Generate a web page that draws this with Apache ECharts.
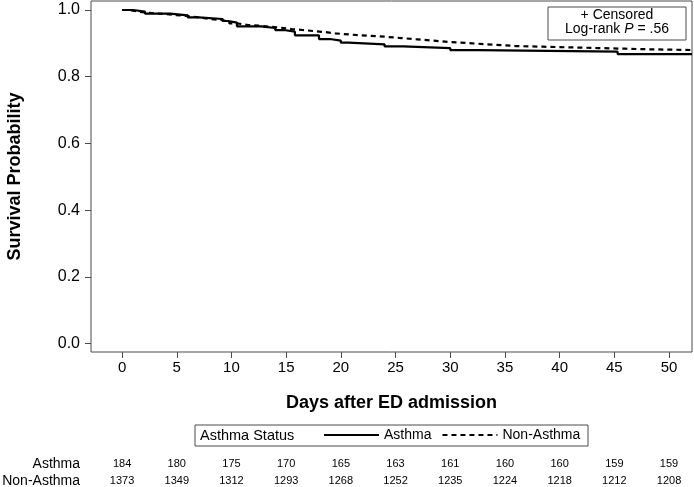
<!DOCTYPE html>
<html>
<head>
<meta charset="utf-8">
<script src="https://cdn.jsdelivr.net/npm/echarts@6/dist/echarts.min.js"></script>
<style>html,body{margin:0;padding:0;background:#fff}#c{width:694px;height:487px}</style>
</head>
<body>
<div id="c"></div>
<script>
// ---- data ----
var asthmaTimes = [0, 1.0, 2.1, 4.4, 6.0, 7.0, 9.2, 9.7, 10.5, 12.7, 14.0, 14.8, 15.8, 18.0, 19.0, 20.0, 20.7, 24.0, 25.7, 30.0, 32.6, 45.3, 52.1];
var asthmaSurv  = [1.000, 0.995, 0.989, 0.984, 0.978, 0.973, 0.967, 0.962, 0.951, 0.946, 0.940, 0.935, 0.924, 0.913, 0.908, 0.902, 0.897, 0.891, 0.886, 0.880, 0.875, 0.868, 0.868];
var nonAsthmaTimes = [0, 0.5, 1.0, 1.5, 2.1, 3.0, 4.0, 4.8, 6.0, 7.0, 8.0, 9.0, 9.8, 10.5, 11.5, 12.5, 13.5, 14.5, 15.5, 16.5, 17.5, 18.5, 19.5, 21.0, 22.5, 24.0, 25.5, 27.0, 28.5, 30.0, 32.0, 34.0, 36.0, 38.5, 41.0, 43.5, 46.0, 48.5, 50.5, 52.1];
var nonAsthmaSurv  = [1.000, 0.998, 0.995, 0.993, 0.990, 0.988, 0.985, 0.982, 0.978, 0.973, 0.970, 0.966, 0.960, 0.955, 0.953, 0.950, 0.947, 0.943, 0.940, 0.937, 0.934, 0.930, 0.926, 0.923, 0.920, 0.916, 0.912, 0.908, 0.904, 0.900, 0.896, 0.892, 0.890, 0.888, 0.886, 0.884, 0.882, 0.881, 0.880, 0.880];
var xTicks = [0, 5, 10, 15, 20, 25, 30, 35, 40, 45, 50];
var yTicks = [0, 0.2, 0.4, 0.6, 0.8, 1.0];
var atRiskAsthma    = [184, 180, 175, 170, 165, 163, 161, 160, 160, 159, 159];
var atRiskNonAsthma = [1373, 1349, 1312, 1293, 1268, 1252, 1235, 1224, 1218, 1212, 1208];
var seriesNames = ['Asthma', 'Non-Asthma'];

function pairs(t, s) { return t.map(function (v, i) { return [v, s[i]]; }); }
function lookup(arr) { return function (v) { var i = xTicks.indexOf(Math.round(v)); return i >= 0 ? String(arr[i]) : ''; }; }

var FONT = 'Liberation Sans, Arial, sans-serif';
var chart = echarts.init(document.getElementById('c'), null, { renderer: 'canvas' });
var xMin = -2.84, xMax = 52.1;
function riskAxis(arr, offset) {
  return {
    type: 'value', min: xMin, max: xMax, position: 'bottom', offset: offset,
    axisLine: { show: false, onZero: false }, axisTick: { show: false }, splitLine: { show: false },
    axisLabel: { customValues: xTicks, margin: 0, fontSize: 11, color: '#000', fontFamily: FONT, formatter: lookup(arr) }
  };
}
chart.setOption({
  animation: false,
  backgroundColor: '#fff',
  grid: { left: 91, top: 1, right: 2, bottom: 135, show: true, borderColor: '#4a4a4a', borderWidth: 1, backgroundColor: 'transparent', outerBoundsMode: 'none', containLabel: false },
  xAxis: [
    {
      type: 'value', min: xMin, max: xMax, position: 'bottom',
      name: 'Days after ED admission', nameLocation: 'middle', nameGap: 42,
      nameTextStyle: { fontSize: 18, fontWeight: 'bold', color: '#000', fontFamily: FONT },
      axisLine: { show: false, onZero: false },
      axisTick: { show: true, customValues: xTicks, length: 6, lineStyle: { color: '#4a4a4a' } },
      axisLabel: { customValues: xTicks, margin: 8, fontSize: 15, color: '#000', fontFamily: FONT },
      splitLine: { show: false }
    },
    riskAxis(atRiskAsthma, 106),
    riskAxis(atRiskNonAsthma, 123)
  ],
  yAxis: {
    type: 'value', min: -0.025, max: 1.027, position: 'left',
    name: 'Survival Probability', nameLocation: 'middle', nameGap: 67, nameRotate: 90,
    nameTextStyle: { fontSize: 18, fontWeight: 'bold', color: '#000', fontFamily: FONT },
    axisLine: { show: false, onZero: false },
    axisTick: { show: true, customValues: yTicks, length: 6, lineStyle: { color: '#4a4a4a' } },
    axisLabel: { customValues: yTicks, margin: 11, fontSize: 16, color: '#000', fontFamily: FONT, formatter: function (v) { return v.toFixed(1); } },
    splitLine: { show: false }
  },
  legend: {
    left: 323, top: 428, padding: 0, itemGap: 10, itemWidth: 55, itemHeight: 16,
    selectedMode: false,
    itemStyle: { opacity: 0, borderWidth: 0 },
    lineStyle: { opacity: 1 },
    textStyle: { fontSize: 14, color: '#000', fontFamily: FONT },
    data: seriesNames
  },
  graphic: [
    { type: 'rect', shape: { x: 195, y: 425, width: 393, height: 21 }, style: { fill: 'none', stroke: '#4a4a4a', lineWidth: 1 }, z: 10 },
    { type: 'text', x: 200, y: 436, style: { text: 'Asthma Status', font: '14.5px ' + FONT, fill: '#000', verticalAlign: 'middle', align: 'left' }, z: 10 },
    { type: 'rect', shape: { x: 548, y: 7, width: 138, height: 33 }, style: { fill: '#fff', stroke: '#4a4a4a', lineWidth: 1 }, z: 10 },
    { type: 'text', x: 617, y: 15, style: { text: '+ Censored', font: '14px ' + FONT, fill: '#000', verticalAlign: 'middle', align: 'center' }, z: 11 },
    { type: 'text', x: 617, y: 29, style: {
        text: '{n|Log-rank }{i|P}{n| = .56}', verticalAlign: 'middle', align: 'center', fill: '#000',
        rich: { n: { fontSize: 14, fontFamily: FONT, fill: '#000' }, i: { fontSize: 14, fontFamily: FONT, fontStyle: 'italic', fill: '#000' } }
      }, z: 11 },
    { type: 'text', x: 80, y: 464, style: { text: 'Asthma', font: '14px ' + FONT, fill: '#000', verticalAlign: 'middle', align: 'right' } },
    { type: 'text', x: 80, y: 481, style: { text: 'Non-Asthma', font: '14px ' + FONT, fill: '#000', verticalAlign: 'middle', align: 'right' } }
  ],
  series: [
    { name: seriesNames[0], type: 'line', step: 'end', symbol: 'none', data: pairs(asthmaTimes, asthmaSurv),
      lineStyle: { color: '#000', width: 2.2, type: 'solid' }, itemStyle: { color: '#000' }, z: 3 },
    { name: seriesNames[1], type: 'line', step: 'end', symbol: 'none', data: pairs(nonAsthmaTimes, nonAsthmaSurv),
      lineStyle: { color: '#000', width: 2.2, type: [5, 4] }, itemStyle: { color: '#000' }, z: 2 }
  ]
});
</script>
</body>
</html>
